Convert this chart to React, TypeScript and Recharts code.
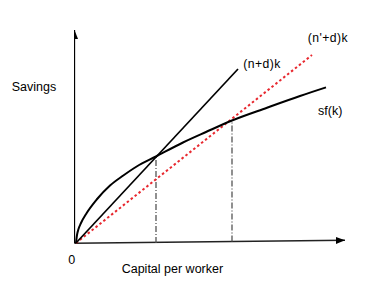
import { LineChart, Line, XAxis, YAxis } from "recharts";

// values, in px-like units from the origin (k right, savings up)
const sfK = [0, 1, 2.5, 5, 10.7, 20.7, 34, 47.3, 60.7, 80, 107, 130, 156, 191, 224, 250];
const sfS = [0, 8, 14, 20, 30, 43.5, 57.5, 67.5, 76.5, 86.5, 100.5, 111, 122.5, 135.3, 147, 155.6];

const ndK = [0, 162];
const ndS = [0, 174];

const ndPrimeK = [0, 236];
const ndPrimeS = [0, 188];

const guide1K = [80, 80];
const guide1S = [0, 87];
const guide2K = [156, 156];
const guide2S = [1.4, 123];

const xAxisK = [-1.5, 269];
const xAxisS = [-0.3, 2.7];
const yAxisK = [-1.5, -1.5];
const yAxisS = [-0.3, 213];

const toRows = (ks: number[], ss: number[]) => ks.map((k, i) => ({ k, s: ss[i] }));

const sfData = toRows(sfK, sfS);
const ndData = toRows(ndK, ndS);
const ndPrimeData = toRows(ndPrimeK, ndPrimeS);
const guide1Data = toRows(guide1K, guide1S);
const guide2Data = toRows(guide2K, guide2S);
const xAxisData = toRows(xAxisK, xAxisS);
const yAxisData = toRows(yAxisK, yAxisS);

const FONT = "'Liberation Sans', Arial, sans-serif";

function arrowDot(dir: "up" | "right", lastIndex: number) {
  return (props: any) => {
    const { cx, cy, index } = props;
    if (index !== lastIndex) return <g key={`a-${dir}-${index}`} />;
    const pts =
      dir === "up"
        ? `${cx},${cy} ${cx - 3.5},${cy + 9} ${cx + 3.5},${cy + 9}`
        : `${cx},${cy} ${cx - 9},${cy - 3.3} ${cx - 9},${cy + 3.7}`;
    return <polygon key={`a-${dir}-${index}`} points={pts} fill="#000" />;
  };
}

export default function App() {
  return (
    <div style={{ position: "absolute", left: 0, top: 0, background: "#fff" }}>
      <LineChart width={375} height={296} margin={{ top: 30, right: 29, bottom: 51, left: 74 }}>
        <XAxis type="number" dataKey="k" domain={[-2, 270]} allowDataOverflow hide />
        <YAxis type="number" domain={[-2, 213]} allowDataOverflow hide />

        <Line data={xAxisData} dataKey="s" type="linear" stroke="#222" strokeWidth={1.4}
          dot={arrowDot("right", xAxisData.length - 1)} activeDot={false} isAnimationActive={false} />
        <Line data={yAxisData} dataKey="s" type="linear" stroke="#000" strokeWidth={1.3}
          dot={arrowDot("up", yAxisData.length - 1)} activeDot={false} isAnimationActive={false} />

        <Line data={guide1Data} dataKey="s" type="linear" stroke="#555" strokeWidth={1.3}
          strokeDasharray="6 2 1 2" dot={false} activeDot={false} isAnimationActive={false} />
        <Line data={guide2Data} dataKey="s" type="linear" stroke="#555" strokeWidth={1.3}
          strokeDasharray="6 2 1 2" dot={false} activeDot={false} isAnimationActive={false} />

        <Line data={ndPrimeData} dataKey="s" type="linear" stroke="#e8282f" strokeWidth={2}
          strokeDasharray="2.5 2.5" dot={false} activeDot={false} isAnimationActive={false} />
        <Line data={ndData} dataKey="s" type="linear" stroke="#000" strokeWidth={1.7}
          dot={false} activeDot={false} isAnimationActive={false} />
        <Line data={sfData} dataKey="s" type="monotone" stroke="#000" strokeWidth={2}
          dot={false} activeDot={false} isAnimationActive={false} />

        <text x={11.7} y={90.7} fontSize={12.5} fontFamily={FONT} fill="#000">Savings</text>
        <text x={71.7} y={264} fontSize={12.5} fontFamily={FONT} fill="#000" textAnchor="middle">0</text>
        <text x={121.7} y={273} fontSize={12.5} fontFamily={FONT} fill="#000">Capital per worker</text>
        <text x={243.3} y={67.5} fontSize={12.2} fontFamily={FONT} fill="#000"
          textLength={37} lengthAdjust="spacing">(n+d)k</text>
        <text x={307.7} y={42} fontSize={12.2} fontFamily={FONT} fill="#000"
          textLength={40} lengthAdjust="spacing">(n'+d)k</text>
        <text x={318} y={115} fontSize={12.5} fontFamily={FONT} fill="#000">sf(k)</text>
      </LineChart>
    </div>
  );
}
